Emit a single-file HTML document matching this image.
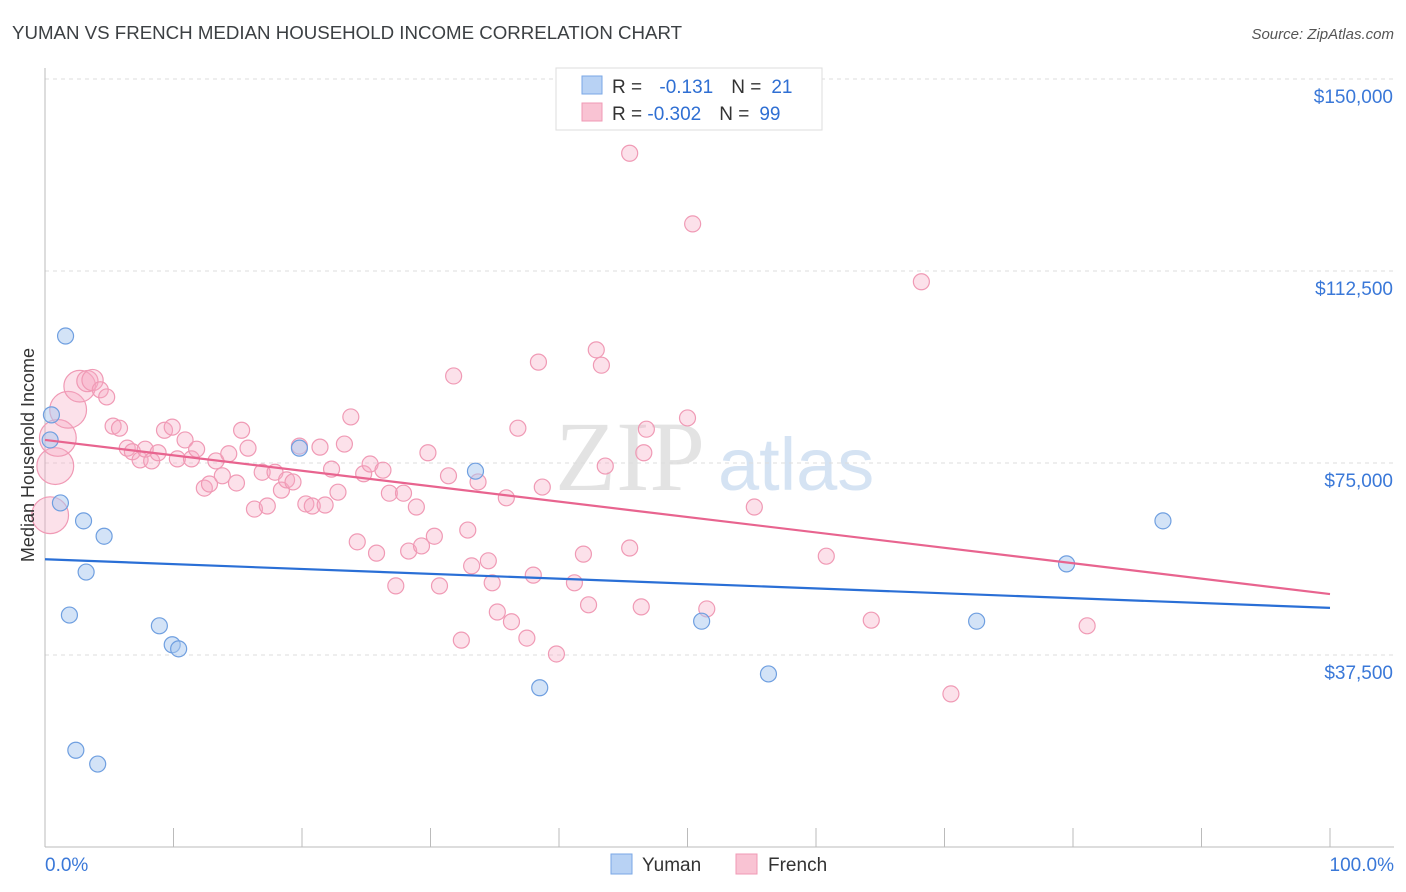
<!DOCTYPE html>
<html><head><meta charset="utf-8"><style>
body{margin:0;background:#fff;font-family:"Liberation Sans",sans-serif;}
svg{display:block}
</style></head><body>
<svg id="chart" width="1406" height="892" xmlns="http://www.w3.org/2000/svg">
<text x="12" y="39" font-size="18.7" fill="#3c4043">YUMAN VS FRENCH MEDIAN HOUSEHOLD INCOME CORRELATION CHART</text>
<text x="1394" y="39" font-size="15" fill="#555" text-anchor="end" font-style="italic">Source: ZipAtlas.com</text>
<g>
<text x="555" y="490" font-size="100" fill="#d8d8d8" font-family="Liberation Serif,serif" opacity="0.7">ZIP</text>
<text x="718" y="490" font-size="74" fill="#c4d8ef" opacity="0.7">atlas</text>
</g>
<g id="grid"></g>
<g id="axes"></g>
<g id="marks"></g>
<text transform="translate(34,455) rotate(-90)" font-size="18" fill="#333" text-anchor="middle">Median Household Income</text>
<g>
<rect x="556" y="68" width="266" height="62" fill="#fff" stroke="#ddd"/>
<rect x="582" y="76" width="20" height="18" fill="#b8d2f4" stroke="#7aa7e6"/>
<rect x="582" y="103" width="20" height="18" fill="#f9c3d3" stroke="#f09ab5"/>
<text x="612" y="93" font-size="19" fill="#333">R = <tspan fill="#2f6fd3" dx="12">-0.131</tspan><tspan dx="18" fill="#333">N =</tspan><tspan dx="10" fill="#2f6fd3">21</tspan></text>
<text x="612" y="120" font-size="19" fill="#333">R = <tspan fill="#2f6fd3">-0.302</tspan><tspan dx="18" fill="#333">N =</tspan><tspan dx="10" fill="#2f6fd3">99</tspan></text>
</g>
<g>
<rect x="611" y="854" width="21" height="20" fill="#b8d2f4" stroke="#7aa7e6"/>
<text x="642" y="871" font-size="19" fill="#333">Yuman</text>
<rect x="736" y="854" width="21" height="20" fill="#f9c3d3" stroke="#f09ab5"/>
<text x="768" y="871" font-size="19" fill="#333">French</text>
</g>
</svg>
<script>
const yTicks=[37500,75000,112500,150000];
const yTickLabels=["$37,500","$75,000","$112,500","$150,000"];
const xEndLabels=["0.0%","100.0%"];
const yumanX=[0.4,0.5,1.6,1.2,3.0,4.6,3.2,1.9,8.9,9.9,10.4,2.4,4.1,19.8,33.5,38.5,51.1,56.3,72.5,79.5,87.0];
const yumanY=[79500,84400,99800,67200,63700,60700,53700,45300,43200,39500,38700,18900,16200,77900,73400,31100,44100,33800,44100,55300,63700];
const frenchX=[0.4,0.8,1.0,1.8,2.7,3.3,3.7,4.3,4.8,5.3,5.8,6.4,6.8,7.4,7.8,8.3,8.8,9.3,9.9,10.3,10.9,11.4,11.8,12.4,12.8,13.3,13.8,14.3,14.9,15.3,15.8,16.3,16.9,17.3,17.9,18.4,18.8,19.3,19.8,20.3,20.8,21.4,21.8,22.3,22.8,23.3,23.8,24.3,24.8,25.3,25.8,26.3,26.8,27.3,27.9,28.3,28.9,29.3,29.8,30.3,30.7,31.4,31.8,32.4,32.9,33.2,33.7,34.5,34.8,35.2,35.9,36.3,36.8,37.5,38.0,38.4,38.7,39.8,41.2,41.9,42.3,42.9,43.3,43.6,45.5,45.5,46.4,46.6,46.8,50.0,50.4,51.5,55.2,60.8,64.3,68.2,70.5,81.1];
const frenchY=[64800,74400,79900,85400,90000,91000,91200,89300,87900,82200,81800,77900,77200,75600,77700,75400,77000,81400,82000,75800,79500,75800,77700,70100,70900,75400,72500,76800,71100,81400,77900,66000,73200,66600,73200,69700,71700,71300,78300,67000,66600,78100,66800,73800,69300,78700,84000,59600,72900,74800,57400,73600,69100,51000,69100,57800,66400,58800,77000,60700,51000,72500,92000,40400,61900,54900,71300,55900,51600,45900,68200,44000,81800,40800,53100,94700,70300,37700,51600,57200,47300,97100,94100,74400,58400,135500,46900,77000,81600,83800,121700,46500,66400,56800,44300,110400,29900,43200];
const frenchWeight=[5,5,5,5,4,2,2,1,1,1,1,1,1,1,1,1,1,1,1,1,1,1,1,1,1,1,1,1,1,1,1,1,1,1,1,1,1,1,1,1,1,1,1,1,1,1,1,1,1,1,1,1,1,1,1,1,1,1,1,1,1,1,1,1,1,1,1,1,1,1,1,1,1,1,1,1,1,1,1,1,1,1,1,1,1,1,1,1,1,1,1,1,1,1,1,1,1,1,1];
const yumanTrend=[56200,46700];
const frenchTrend=[79500,49400];

const NS="http://www.w3.org/2000/svg";
const X0=45,X1=1330,YB=847,PX=192/37500;
const xs=v=>X0+(X1-X0)*v/100;
const ys=v=>YB-v*PX;
function mk(tag,attrs,parent){const e=document.createElementNS(NS,tag);for(const k in attrs)e.setAttribute(k,attrs[k]);parent.appendChild(e);return e;}
const grid=document.getElementById('grid'),axes=document.getElementById('axes'),marks=document.getElementById('marks');
yTicks.forEach((t,i)=>{
  const l=mk('line',{x1:X0,x2:1394,y1:ys(t),y2:ys(t),stroke:'#ddd','stroke-dasharray':'4,4'},grid);
  
  
  const tx=mk('text',{x:1393,y:ys(t)+24,'font-size':19,fill:'#3a78d8','text-anchor':'end'},axes);
  tx.textContent=yTickLabels[i];
  
  
});
const ya=mk('line',{x1:X0,x2:X0,y1:68,y2:YB,stroke:'#bbb'},axes);


const xa=mk('line',{x1:X0,x2:1394,y1:YB,y2:YB,stroke:'#bbb'},axes);


for(let i=0;i<=10;i++){
  const tk=mk('line',{x1:xs(i*10),x2:xs(i*10),y1:828,y2:YB,stroke:'#bbb'},axes);
  
  
}
[[0,'start',45],[100,'end',1394]].forEach((d,i)=>{
  const t=mk('text',{x:d[2],y:871,'font-size':19,fill:'#3a78d8','text-anchor':d[1]},axes);
  t.textContent=xEndLabels[i];
  
  
});
frenchX.forEach((x,i)=>{
  const r=8+(frenchWeight[i]-1)*2.6;
  const c=mk('circle',{cx:xs(x),cy:ys(frenchY[i]),r:r,fill:'rgba(246,170,195,0.35)',stroke:'#f09ab5','stroke-width':1.2},marks);
  
  
});
yumanX.forEach((x,i)=>{
  const c=mk('circle',{cx:xs(x),cy:ys(yumanY[i]),r:8,fill:'rgba(168,200,240,0.5)',stroke:'#6f9fe0','stroke-width':1.2},marks);
  
  
});
const bl=mk('line',{x1:xs(0),x2:xs(100),y1:ys(yumanTrend[0]),y2:ys(yumanTrend[1]),stroke:'#2a6fd6','stroke-width':2.2},marks);


const pl=mk('line',{x1:xs(0),x2:xs(100),y1:ys(frenchTrend[0]),y2:ys(frenchTrend[1]),stroke:'#e8648f','stroke-width':2.2},marks);


</script>
</body></html>
